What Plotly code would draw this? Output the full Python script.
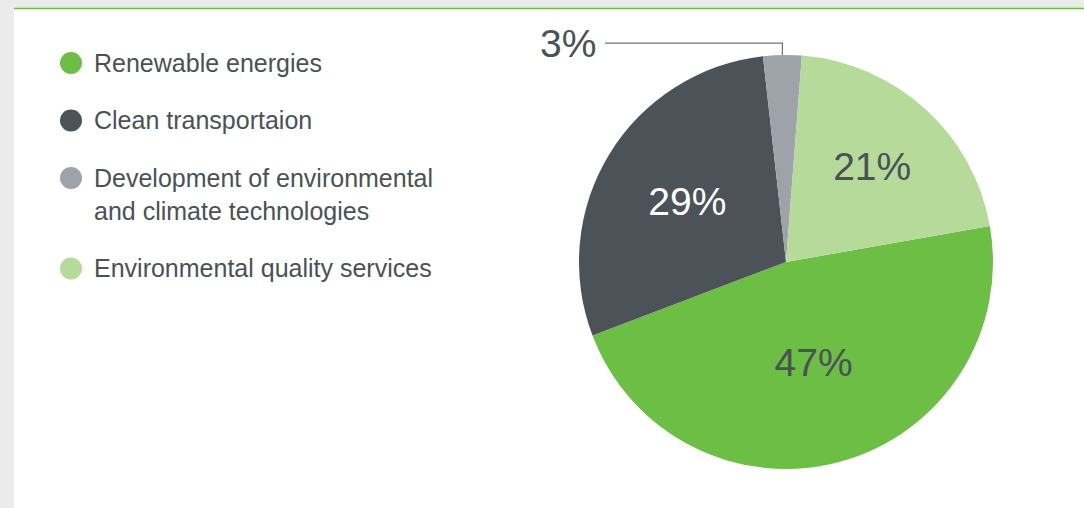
import math
import plotly.graph_objects as go

# ---- data ----
categories = ["Renewable energies", "Clean transportaion",
              "Development of environmental<br>and climate technologies",
              "Environmental quality services"]
values = [47, 29, 3, 21]
pct_labels = ["47%", "29%", "3%", "21%"]
colors = ["#6dbe45", "#4b5258", "#9da3a9", "#b5da9a"]
label_colors = ["#4b5157", "#ffffff", "#4b5157", "#4b5157"]
line_counts = [1, 1, 2, 1]

W, H = 1084, 508
FONT = "Liberation Sans, Arial, sans-serif"
TXT = "#4b5157"

# pie geometry (pixels)
cx, cy, r = 786, 262, 207
rotation = 80

fig = go.Figure()

fig.add_trace(go.Pie(
    labels=categories, values=values, text=pct_labels,
    textinfo="text", sort=False, direction="clockwise", rotation=rotation,
    marker=dict(colors=colors, line=dict(width=0)),
    textposition=["inside", "inside", "none", "inside"],
    insidetextorientation="horizontal",
    insidetextfont=dict(family=FONT, size=39, color=label_colors),
    domain=dict(x=[(cx - r) / W, (cx + r) / W],
                y=[(H - cy - r) / H, (H - cy + r) / H]),
    showlegend=False, hoverinfo="label+percent",
))

# legend (markers + text) built from categories
leg_x, leg_y0, slot, line_h = 71, 63, 57.5, 33
ys = []
extra = 0
for i, n in enumerate(line_counts):
    ys.append(leg_y0 + slot * i + line_h * extra)
    extra += n - 1
fig.add_trace(go.Scatter(
    x=[leg_x] * len(categories), y=ys, mode="markers",
    marker=dict(size=22, color=colors, line=dict(width=0)),
    hoverinfo="skip", showlegend=False, xaxis="x", yaxis="y"))
for cat, y in zip(categories, ys):
    fig.add_annotation(x=leg_x + 21, y=y - line_h / 2, xref="x", yref="y",
                       text=cat, showarrow=False, xanchor="left", yanchor="top",
                       align="left", font=dict(family=FONT, size=25, color=TXT))

# leader line and outside label for the small slice
total = sum(values)
cum = sum(values[:2])
mid = math.radians(rotation + 360 * (cum + values[2] / 2) / total)
ex, ey = cx + r * math.sin(mid), cy - r * math.cos(mid)
ly = ey - 12
fig.add_trace(go.Scatter(
    x=[ex, ex, 605], y=[ey, ly, ly], mode="lines",
    line=dict(color="#6f747a", width=1.2), hoverinfo="skip",
    showlegend=False))
fig.add_annotation(x=598, y=ly, xref="x", yref="y", text=pct_labels[2],
                   showarrow=False, xanchor="right", yanchor="middle",
                   font=dict(family=FONT, size=39, color=TXT))

# card background
fig.add_shape(type="rect", xref="x", yref="y", x0=14, x1=W, y0=9, y1=H,
              fillcolor="white", line=dict(width=0), layer="below")
fig.add_shape(type="line", xref="x", yref="y", x0=14, x1=W, y0=8.5, y1=8.5,
              line=dict(color="#6dbe45", width=1.5), layer="below")

fig.update_layout(
    width=W, height=H, margin=dict(l=0, r=0, t=0, b=0),
    paper_bgcolor="#ebebeb", plot_bgcolor="rgba(0,0,0,0)",
    xaxis=dict(range=[0, W], domain=[0, 1], visible=False, fixedrange=True),
    yaxis=dict(range=[H, 0], domain=[0, 1], visible=False, fixedrange=True),
    showlegend=False,
)

fig.write_html("out.html")
